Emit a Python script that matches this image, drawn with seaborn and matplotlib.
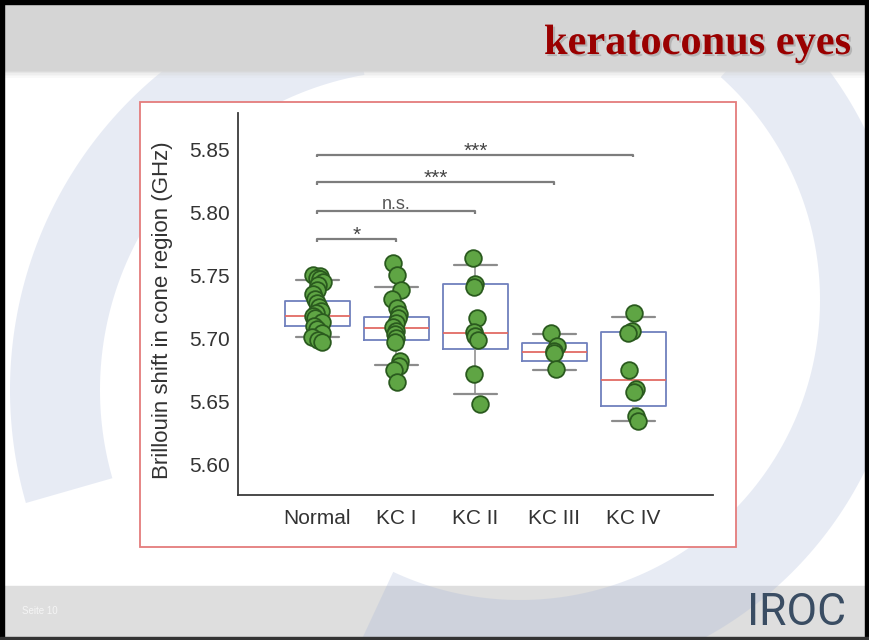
import numpy as np
import pandas as pd
import matplotlib
matplotlib.use("Agg")
import matplotlib.pyplot as plt
from matplotlib.patches import Rectangle, Polygon
import matplotlib.patheffects as pe
import seaborn as sns

# ---- data -----------------------------------------------------------------
groups = ["Normal", "KC I", "KC II", "KC III", "KC IV"]

normal_ghz = [5.750, 5.749, 5.748, 5.747, 5.745, 5.742, 5.738, 5.735, 5.731,
              5.728, 5.725, 5.722, 5.720, 5.718, 5.716, 5.713, 5.710, 5.707,
              5.704, 5.701, 5.699, 5.697]
kc1_ghz = [5.760, 5.750, 5.738, 5.731, 5.724, 5.719, 5.716, 5.712, 5.709,
           5.706, 5.703, 5.700, 5.697, 5.682, 5.678, 5.675, 5.665]
kc2_ghz = [5.764, 5.743, 5.741, 5.716, 5.705, 5.702, 5.699, 5.672, 5.648]
kc3_ghz = [5.704, 5.694, 5.690, 5.688, 5.676]
kc4_ghz = [5.720, 5.706, 5.704, 5.675, 5.660, 5.657, 5.638, 5.634]

# box summaries: lower whisker, Q1, median, Q3, upper whisker
box_lower = [5.7008, 5.6784, 5.6555, 5.6750, 5.6342]
box_q1 = [5.7100, 5.6990, 5.6916, 5.6816, 5.6460]
box_median = [5.7179, 5.7079, 5.7040, 5.6890, 5.6666]
box_q3 = [5.7298, 5.7166, 5.7430, 5.6964, 5.7047]
box_upper = [5.7464, 5.7403, 5.7582, 5.7035, 5.7171]

compare_to = ["KC I", "KC II", "KC III", "KC IV"]
compare_labels = ["*", "n.s.", "***", "***"]
bracket_heights = [5.7785, 5.8009, 5.8238, 5.8457]

y_ticks = [5.60, 5.65, 5.70, 5.75, 5.80, 5.85]

# ---- tables for seaborn ---------------------------------------------------
values = [normal_ghz, kc1_ghz, kc2_ghz, kc3_ghz, kc4_ghz]
points = pd.DataFrame({
    "group": [g for g, v in zip(groups, values) for _ in v],
    "ghz": [x for v in values for x in v],
})
box_rows = []
for i, g in enumerate(groups):
    for stat in (box_lower[i], box_q1[i], box_median[i], box_q3[i], box_upper[i]):
        box_rows.append((g, stat))
boxes = pd.DataFrame(box_rows, columns=["group", "ghz"])

# ---- figure ---------------------------------------------------------------
sns.set_style("white")
plt.rcParams["font.family"] = ["Liberation Sans", "DejaVu Sans"]

W, H = 869, 640
fig = plt.figure(figsize=(W / 100, H / 100), dpi=100)

# slide background
bg = fig.add_axes([0, 0, 1, 1])
bg.set_xlim(0, W)
bg.set_ylim(H, 0)
bg.axis("off")
bg.add_patch(Rectangle((0, 0), W, H, color="white", zorder=0))


def arc_band(cx, cy, r_in, r_out, a0, a1, n=160):
    a = np.radians(np.linspace(a0, a1, n))
    outer = np.column_stack([cx + r_out * np.cos(a), cy - r_out * np.sin(a)])
    inner = np.column_stack([cx + r_in * np.cos(a[::-1]), cy - r_in * np.sin(a[::-1])])
    return np.vstack([outer, inner])


# footer band (under the swoosh)
bg.add_patch(Rectangle((4, 586), W - 8, 51, color="#dedede", zorder=1))

swoosh = "#a3b3d8"
bg.add_patch(Polygon(arc_band(420, 390, 320, 410, 100, 196), closed=True,
                     color=swoosh, alpha=0.26, lw=0, zorder=2))
bg.add_patch(Polygon(arc_band(520, 300, 300, 385, -115, 48), closed=True,
                     color=swoosh, alpha=0.26, lw=0, zorder=2))

# header band with a soft lower edge
bg.add_patch(Rectangle((4, 4), W - 8, 66, color="#d5d5d5", zorder=3))
for k, a in enumerate([0.8, 0.6, 0.4, 0.25, 0.12]):
    bg.add_patch(Rectangle((4, 70 + k * 1.5), W - 8, 1.5, color="#d5d5d5",
                           alpha=a, lw=0, zorder=3))

# outer frame
bg.add_patch(Rectangle((0, 0), W, 4, color="black", zorder=4))
bg.add_patch(Rectangle((0, 0), 4, H, color="black", zorder=4))
bg.add_patch(Rectangle((W - 4, 0), 4, H, color="black", zorder=4))
bg.add_patch(Rectangle((0, H - 3), W, 3, color="#333333", zorder=4))

# chart panel
bg.add_patch(Rectangle((140, 101.5), 595.5, 445.2, facecolor="white",
                       edgecolor="#e47c7c", lw=1.3, zorder=5))

bg.text(851, 54, "keratoconus eyes", ha="right", va="baseline",
        fontsize=30.5, fontweight="bold", color="#9a0000",
        family=["Liberation Serif", "DejaVu Serif"], zorder=6,
        path_effects=[pe.withSimplePatchShadow(offset=(1.5, -1.5),
                                               shadow_rgbFace="#777777",
                                               alpha=0.35)])
bg.text(22, 611, "Seite 10", ha="left", va="center", fontsize=7,
        color="#f5f5f5", zorder=6)
bg.text(846, 613, "IROC", ha="right", va="center", fontsize=32,
        color="#3a4d63", family=["Roboto", "DejaVu Sans"], zorder=6)

# ---- box / strip chart ----------------------------------------------------
ax = fig.add_axes([238.3 / W, 1 - 495 / H, (713 - 238.3) / W, (495 - 113.3) / H])
ax.set_facecolor("none")
ax.patch.set_alpha(0)

sns.boxplot(data=boxes, x="group", y="ghz", order=groups, whis=(0, 100),
            width=0.82, fill=False, showfliers=False, ax=ax,
            boxprops=dict(color="#6f80bd", linewidth=1.3),
            medianprops=dict(color="#e26b64", linewidth=1.3),
            whiskerprops=dict(color="#9a9a9a", linewidth=1.3),
            capprops=dict(color="#8c8c8c", linewidth=1.6),
            capwidths=0.55, zorder=2)

np.random.seed(7)
sns.stripplot(data=points, x="group", y="ghz", order=groups, jitter=0.07,
              size=12, color="#5fa544", edgecolor="#2a5a1e", linewidth=1.3,
              ax=ax, zorder=3)

# significance brackets
x_of = {g: i for i, g in enumerate(groups)}
for target, label, h in zip(compare_to, compare_labels, bracket_heights):
    x0, x1 = x_of["Normal"], x_of[target]
    ax.plot([x0, x0, x1, x1], [h - 0.0022, h, h, h - 0.0022],
            color="#7d7d7d", lw=1.6, solid_capstyle="butt", zorder=4,
            clip_on=False)
    xm = (x0 + x1) / 2
    if label == "n.s.":
        ax.text(xm, h + 0.0018, label, ha="center", va="baseline",
                fontsize=13, color="#555555")
    else:
        ax.text(xm, h - 0.0016, label, ha="center", va="baseline",
                fontsize=15, color="#444444")

ax.set_xlim(-1, 5.007)
ax.set_ylim(5.5757, 5.8784)
ax.set_yticks(y_ticks)
ax.set_yticklabels([f"{t:.2f}" for t in y_ticks])
ax.set_xlabel("")
ax.set_ylabel("Brillouin shift in cone region (GHz)", fontsize=16,
              color="#333333", va="center")
ax.yaxis.set_label_coords(-0.16, 0.485)

for side in ("top", "right"):
    ax.spines[side].set_visible(False)
for side in ("left", "bottom"):
    ax.spines[side].set_color("#3a3a3a")
    ax.spines[side].set_linewidth(1.3)

ax.tick_params(axis="y", direction="out", length=3, width=1, color="#3a3a3a",
               pad=3, labelsize=15, labelcolor="#333333")
ax.tick_params(axis="x", direction="in", length=3, width=1, color="#3a3a3a",
               pad=10, labelsize=15, labelcolor="#333333")
ax.grid(False)

fig.savefig("out.png", dpi=100)
